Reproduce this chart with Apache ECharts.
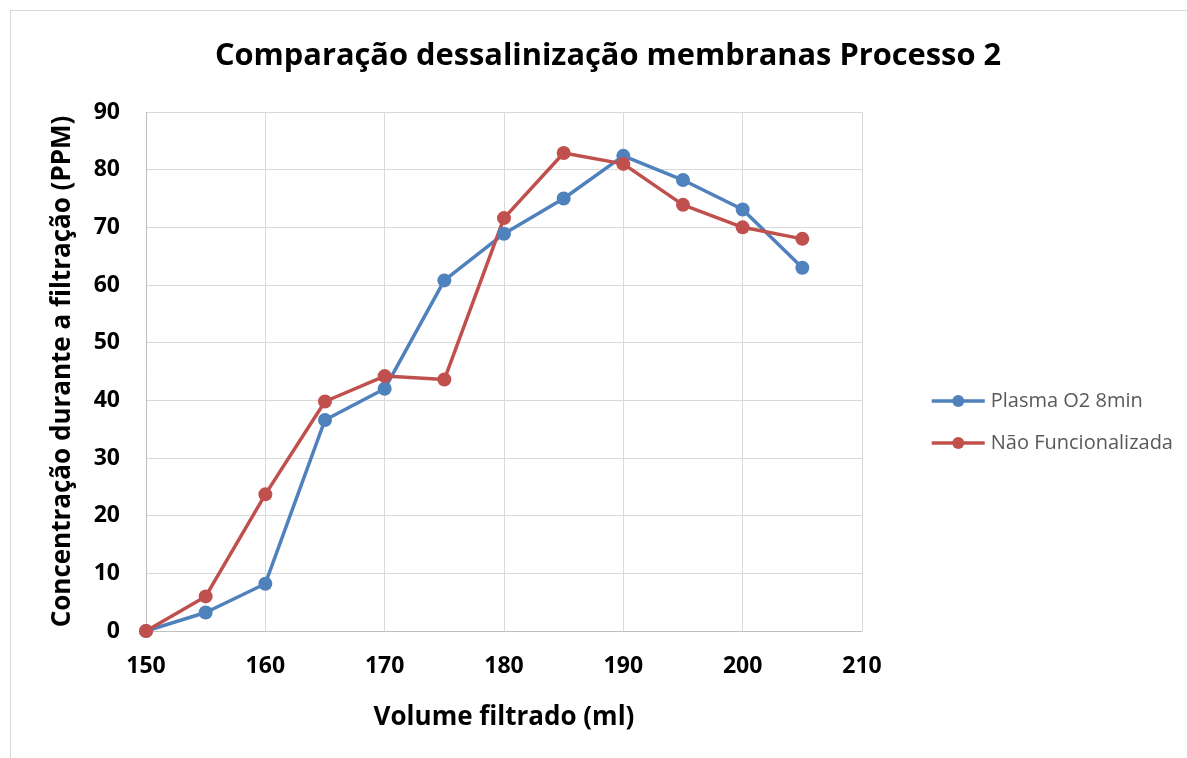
<!DOCTYPE html>
<html><head><meta charset="utf-8">
<script src="https://cdn.jsdelivr.net/npm/echarts@6/dist/echarts.min.js"></script>
<style>html,body{margin:0;padding:0;background:#fff}#c{width:1187px;height:758px}</style>
</head><body><div id="c"></div>
<script>
const volumes = [150,155,160,165,170,175,180,185,190,195,200,205];
const plasmaO2 = [0,3.2,8.2,36.6,42.0,60.8,68.9,75.0,82.4,78.2,73.1,63.0];
const naoFunc = [0,6.0,23.7,39.8,44.2,43.6,71.6,82.9,81.0,73.9,70.0,68.0];
const seriesNames = ['Plasma O2 8min','Não Funcionalizada'];
const colors = ['#4f81bd','#c0504d'];
const F = '"Open Sans", "Liberation Sans", sans-serif';
const chart = echarts.init(document.getElementById('c'));
const mk = (name, vals, color) => ({
  name, type:'line', data: volumes.map((v,i)=>[v, vals[i]]),
  symbol:'circle', symbolSize:14, lineStyle:{width:3.5,color}, itemStyle:{color},
  emphasis:{disabled:true}
});
chart.setOption({
  animation:false,
  graphic:[{type:'rect',shape:{x:10.5,y:10.5,width:1190,height:760},style:{fill:'none',stroke:'#d9d9d9',lineWidth:1},silent:true}],
  title:{text:'Comparação dessalinização membranas Processo 2',left:603,top:36,textAlign:'center',
    textStyle:{fontFamily:F,fontWeight:'bold',fontSize:30.8,color:'#000'}},
  legend:{orient:'vertical',left:925,top:386,itemGap:22,itemWidth:53,itemHeight:15,
    lineStyle:{width:3.5},
    textStyle:{fontFamily:F,fontSize:20,color:'#595959',padding:[0,0,0,1]},
    data:seriesNames},
  grid:{left:146,right:325,top:112,bottom:127,containLabel:false},
  xAxis:{type:'value',min:150,max:210,interval:10,
    name:'Volume filtrado (ml)',nameLocation:'middle',nameGap:74,
    nameTextStyle:{fontFamily:F,fontWeight:'bold',fontSize:26,color:'#000'},
    axisLine:{show:true,lineStyle:{color:'#bfbfbf',width:1}},axisTick:{show:false},
    axisLabel:{fontFamily:F,fontWeight:'bold',fontSize:23,color:'#000',margin:24},
    splitLine:{show:true,lineStyle:{color:'#d9d9d9',width:1}}},
  yAxis:{type:'value',min:0,max:90,interval:10,
    name:'Concentração durante a filtração (PPM)',nameLocation:'middle',nameGap:70,
    nameTextStyle:{fontFamily:F,fontWeight:'bold',fontSize:26,color:'#000'},
    axisLine:{show:true,lineStyle:{color:'#bfbfbf',width:1}},axisTick:{show:false},
    axisLabel:{fontFamily:F,fontWeight:'bold',fontSize:23,color:'#000',margin:26},
    splitLine:{show:true,lineStyle:{color:'#d9d9d9',width:1}}},
  series:[mk(seriesNames[0],plasmaO2,colors[0]),mk(seriesNames[1],naoFunc,colors[1])]
});
</script></body></html>
